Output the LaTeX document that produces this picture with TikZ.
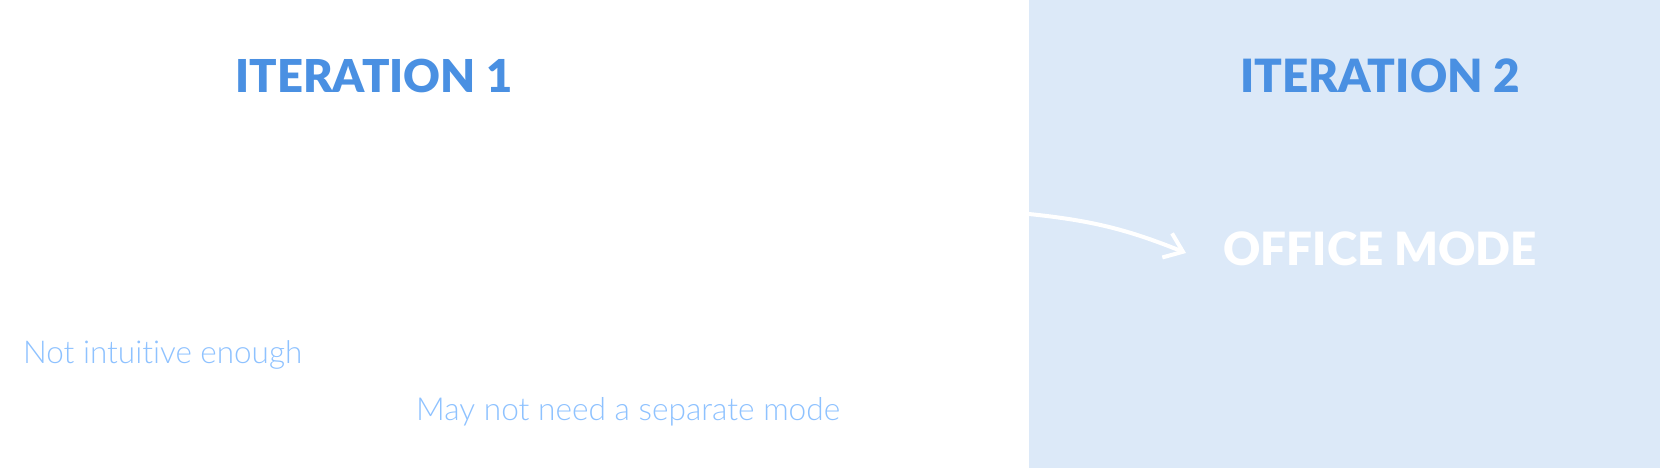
\documentclass[tikz,border=0pt]{standalone}
\usepackage{fontspec}
\setmainfont{Lato}[Ligatures=NoCommon]
\newfontfamily\lightfont{Lato Light}[Ligatures=NoCommon]
\newfontfamily\heavyfont{Lato Black}[Ligatures=NoCommon]
\usetikzlibrary{arrows.meta}
\definecolor{titleblue}{HTML}{4A90E2}
\definecolor{panelbg}{HTML}{DCE9F8}
\definecolor{noteblue}{HTML}{8EC2FF}
\tikzset{
  title/.style={text=titleblue, font=\heavyfont\fontsize{48}{48}\selectfont, inner sep=0pt, anchor=base},
  modetext/.style={text=white, font=\heavyfont\fontsize{48}{48}\selectfont, inner sep=0pt, anchor=base},
  note/.style={text=noteblue, font=\lightfont\fontsize{30}{30}\selectfont, inner sep=0pt, anchor=base west},
  flow/.style={draw=white, line width=4pt, -{Straight Barb[length=17pt,width=26pt,line width=4pt]}}
}
\begin{document}
\begin{tikzpicture}[x=1pt,y=-1pt]
\useasboundingbox (0,0) rectangle (1660,468);
\fill[white] (0,0) rectangle (1660,468);
\fill[panelbg] (1029,0) rectangle (1660,468);
\node[title] (t1) at (374,93) {\resizebox{277pt}{!}{ITERATION 1}};
\node[title] (t2) at (1380,93) {\resizebox{280pt}{!}{ITERATION 2}};
\node[modetext] (om) at (1380,265) {\resizebox{313pt}{!}{OFFICE MODE}};
\node[note] (n1) at (23,363) {\resizebox{279pt}{!}{Not intuitive enough}};
\node[note] (n2) at (416,420) {\resizebox{424pt}{!}{May not need a separate mode}};
\coordinate (a) at (1029,214);
\coordinate (b) at (1186,253);
\draw[flow] (a) to[bend left=8] (b);
\end{tikzpicture}
\end{document}
